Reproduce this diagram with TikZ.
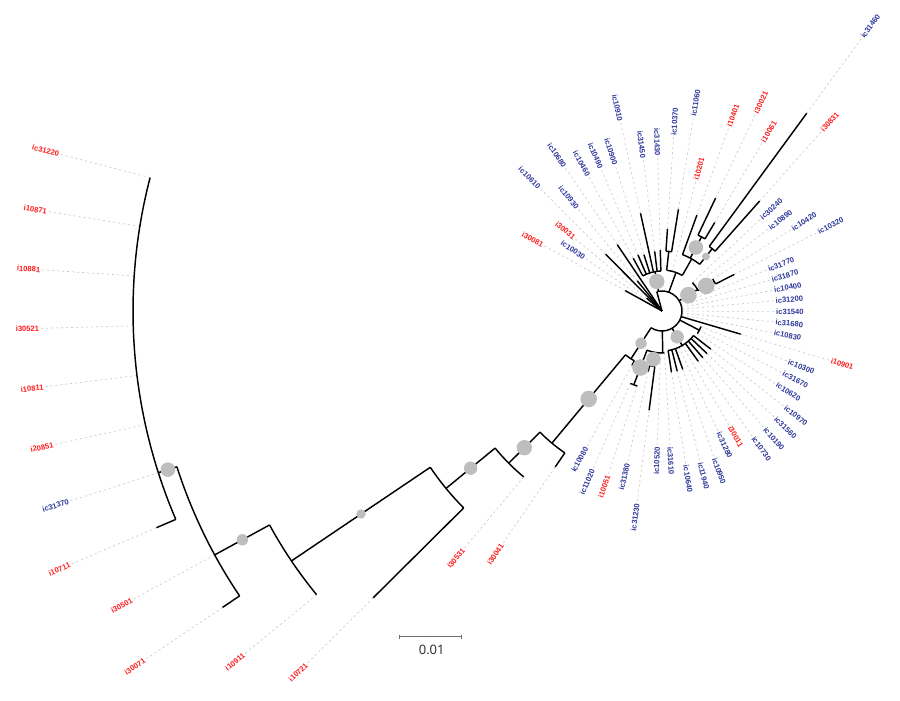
\documentclass[tikz,border=0pt]{standalone}
\usepackage{fontspec}
\newfontfamily\tipfont{Liberation Sans}
\newfontfamily\barfont{Open Sans}
\usetikzlibrary{calc}

\definecolor{tipred}{RGB}{255,28,28}
\definecolor{tipblue}{RGB}{46,56,155}
\definecolor{bootgray}{RGB}{190,190,190}
\definecolor{leadgray}{RGB}{205,205,205}
\definecolor{bargray}{RGB}{110,110,110}

\tikzset{
  branch/.style={line width=1.45pt},
  lead/.style={draw=leadgray, line width=0.7pt, dash pattern=on 2.2pt off 2.8pt},
  tiplbl/.style={font=\tipfont\bfseries\fontsize{7.6}{8}\selectfont, inner sep=0pt},
  supp/.style={fill=bootgray},
  scalebar/.style={draw=bargray, line width=0.9pt}
}

% leaf: name (= label), angle, tip radius, colour
\newcommand{\leaf}[4]{%
  \coordinate (#1) at (#2:#3);
  \pgfmathsetmacro{\lblr}{#3+94}%
  \pgfmathtruncatemacro{\rside}{cos(#2)>0}%
  \ifnum\rside=1
    \node[tiplbl, text=#4, rotate=#2, anchor=west] (#1-l) at (#2:\lblr) {#1};
  \else
    \pgfmathsetmacro{\lblrot}{#2-180}%
    \node[tiplbl, text=#4, rotate=\lblrot, anchor=east] (#1-l) at (#2:\lblr) {#1};
  \fi
  \draw[lead] (#1) -- (#1-l);
}
% stem: child name, angle, radius of parent
\newcommand{\stem}[3]{%
  \coordinate (#1-b) at (#2:#3);
  \draw[branch] (#1-b) -- (#1);
}
% clade arc: radius, from, to
\newcommand{\clade}[3]{%
  \draw[branch] (#2:#1) arc[start angle=#2, end angle=#3, radius=#1 pt];
}
% support dot: angle, radius, size
\newcommand{\bootdot}[3]{\fill[supp] (#1:#2) circle[radius=#3 pt];}

\begin{document}
\begin{tikzpicture}[x=1pt,y=1pt]
	\useasboundingbox (-662,-390) rectangle (238,311);

	%leaves
	\leaf{ic31220}{165.4}{529}{tipred}
	\leaf{i10871}{170.8}{529}{tipred}
	\leaf{i10881}{176.2}{529}{tipred}
	\leaf{i30521}{181.6}{529}{tipred}
	\leaf{i10811}{187.0}{529}{tipred}
	\leaf{i20851}{192.4}{529}{tipred}
	\leaf{ic31370}{197.8}{529}{tipblue}
	\leaf{i10711}{203.2}{550}{tipred}
	\leaf{i30501}{208.6}{509.5}{tipred}
	\leaf{i30071}{214.0}{530}{tipred}
	\leaf{i10911}{219.4}{447}{tipred}
	\leaf{i10721}{224.8}{407}{tipred}
	\leaf{i30531}{230.2}{216}{tipred}
	\leaf{i30041}{235.6}{189}{tipred}
	\leaf{ic10080}{241.0}{62}{tipblue}
	\leaf{ic11020}{246.4}{79}{tipblue}
	\leaf{i10051}{251.8}{79}{tipred}
	\leaf{ic31380}{257.2}{62}{tipblue}
	\leaf{ic31230}{262.6}{100}{tipblue}
	\leaf{ic10520}{268.0}{42}{tipblue}
	\leaf{ic31610}{273.4}{42}{tipblue}
	\leaf{ic10640}{278.8}{62}{tipblue}
	\leaf{ic11940}{284.2}{62}{tipblue}
	\leaf{ic10950}{289.6}{62}{tipblue}
	\leaf{ic31280}{295.0}{40}{tipblue}
	\leaf{i30011}{300.4}{40}{tipred}
	\leaf{ic10730}{305.8}{62}{tipblue}
	\leaf{ic10190}{311.2}{62}{tipblue}
	\leaf{ic31560}{316.6}{62}{tipblue}
	\leaf{ic10970}{322.0}{62}{tipblue}
	\leaf{ic10620}{327.4}{42}{tipblue}
	\leaf{ic31670}{332.8}{42}{tipblue}
	\leaf{ic10300}{338.2}{42}{tipblue}
	\leaf{i10901}{343.6}{82}{tipred}
	\leaf{ic10830}{349.0}{20}{tipblue}
	\leaf{ic31680}{354.4}{20}{tipblue}
	\leaf{ic31540}{359.8}{20}{tipblue}
	\leaf{ic31200}{5.2}{20}{tipblue}
	\leaf{ic10400}{10.6}{20}{tipblue}
	\leaf{ic31870}{16.0}{20}{tipblue}
	\leaf{ic31770}{21.4}{20}{tipblue}
	\leaf{ic10320}{26.8}{81}{tipblue}
	\leaf{ic10420}{32.2}{60}{tipblue}
	\leaf{ic10890}{37.6}{41.6}{tipblue}
	\leaf{ic30240}{43.0}{41.6}{tipblue}
	\leaf{i30831}{48.4}{147}{tipred}
	\leaf{ic31460}{53.8}{245}{tipblue}
	\leaf{i10061}{59.2}{103}{tipred}
	\leaf{i30021}{64.6}{125}{tipred}
	\leaf{i10401}{70.0}{102}{tipred}
	\leaf{i10201}{75.4}{41}{tipred}
	\leaf{ic11060}{80.8}{103}{tipblue}
	\leaf{ic10370}{86.2}{82}{tipblue}
	\leaf{ic31430}{91.6}{61}{tipblue}
	\leaf{ic31450}{97.0}{60}{tipblue}
	\leaf{ic10910}{102.4}{100}{tipblue}
	\leaf{ic10900}{107.8}{59}{tipblue}
	\leaf{ic10490}{113.2}{61}{tipblue}
	\leaf{ic10460}{118.6}{60}{tipblue}
	\leaf{ic10680}{124.0}{80}{tipblue}
	\leaf{ic10930}{129.4}{39}{tipblue}
	\leaf{ic10610}{134.8}{80}{tipblue}
	\leaf{i30031}{140.2}{20}{tipred}
	\leaf{ic10030}{145.6}{0}{tipblue}
	\leaf{i30081}{151.0}{42}{tipred}

	%inner nodes
	\coordinate (R) at (0,0);
	\coordinate (S) at (105:20);
	\coordinate (U) at (100:40);
	\coordinate (Y) at (70:41);
	\coordinate (X) at (83.5:60);
	\coordinate (L) at (60.3:60);
	\coordinate (M) at (61.9:84);
	\coordinate (Z) at (51.1:80);
	\coordinate (G1) at (31:41.6);
	\coordinate (G2) at (29.5:60);
	\coordinate (T2) at (332.8:42);
	\coordinate (H) at (300.4:40);
	\coordinate (V) at (271:42);
	\coordinate (V2) at (259.9:56);
	\coordinate (T1) at (249.1:79);
	\coordinate (Q) at (237:57);
	\coordinate (N1) at (230.2:172);
	\coordinate (N2) at (224.8:216);
	\coordinate (N3) at (219.4:279.5);
	\coordinate (N4) at (214:447);
	\coordinate (N5) at (208.6:509.5);
	\coordinate (N6) at (197.8:529);

	%root
	\draw[branch] (R) -- (S);
	\stem{ic10680}{124}{0}
	\stem{ic10930}{129.4}{0}
	\stem{ic10610}{134.8}{0}
	\stem{i30031}{140.2}{0}
	\stem{i30081}{151}{0}
	\clade{20}{237}{465}

	%upper clades
	\stem{U}{100}{20}
	\clade{40}{91.6}{118.6}
	\stem{ic31430}{91.6}{40}
	\stem{ic31450}{97}{40}
	\stem{ic10910}{102.4}{40}
	\stem{ic10900}{107.8}{40}
	\stem{ic10490}{113.2}{40}
	\stem{ic10460}{118.6}{40}
	\stem{Y}{70}{20}
	\clade{41}{60.3}{83.5}
	\stem{X}{83.5}{41}
	\clade{60}{80.8}{86.2}
	\stem{ic11060}{80.8}{60}
	\stem{ic10370}{86.2}{60}
	\stem{L}{60.3}{41}
	\clade{60}{51.1}{70}
	\stem{i10401}{70}{60}
	\stem{M}{61.9}{60}
	\clade{84}{59.2}{64.6}
	\stem{i10061}{59.2}{84}
	\stem{i30021}{64.6}{84}
	\stem{Z}{51.1}{60}
	\clade{80}{48.4}{53.8}
	\stem{i30831}{48.4}{80}
	\stem{ic31460}{53.8}{80}
	\stem{G1}{31}{20}
	\clade{41.6}{29.5}{43}
	\stem{G2}{29.5}{41.6}
	\clade{60}{26.8}{32.2}
	\stem{ic10320}{26.8}{60}

	%lower clades
	\stem{i10901}{343.6}{20}
	\stem{T2}{332.8}{20}
	\clade{42}{327.4}{338.2}
	\stem{H}{300.4}{20}
	\clade{40}{278.8}{322}
	\stem{ic10640}{278.8}{40}
	\stem{ic11940}{284.2}{40}
	\stem{ic10950}{289.6}{40}
	\stem{ic10730}{305.8}{40}
	\stem{ic10190}{311.2}{40}
	\stem{ic31560}{316.6}{40}
	\stem{ic10970}{322}{40}
	\stem{V}{271}{20}
	\clade{42}{249.1}{273.4}
	\stem{V2}{259.9}{42}
	\clade{56}{257.2}{262.6}
	\stem{ic31380}{257.2}{56}
	\stem{ic31230}{262.6}{56}
	\stem{T1}{249.1}{42}
	\clade{79}{246.4}{251.8}
	\stem{Q}{237}{20}
	\clade{57}{230.2}{241}
	\stem{ic10080}{241}{57}

	%outgroup backbone
	\stem{N1}{230.2}{57}
	\clade{172}{224.8}{235.6}
	\stem{i30041}{235.6}{172}
	\stem{N2}{224.8}{172}
	\clade{216}{219.4}{230.2}
	\stem{N3}{219.4}{216}
	\clade{279.5}{214}{224.8}
	\stem{i10721}{224.8}{279.5}
	\stem{N4}{214}{279.5}
	\clade{447}{208.6}{219.4}
	\stem{N5}{208.6}{447}
	\clade{509.5}{197.8}{214}
	\stem{i30071}{214}{509.5}
	\stem{N6}{197.8}{509.5}
	\clade{529}{165.4}{203.2}
	\stem{i10711}{203.2}{529}

	%support circles
	\bootdot{100}{30}{7.7}
	\bootdot{61.9}{72}{7.3}
	\bootdot{51.1}{70}{4}
	\bootdot{31}{30.8}{8.3}
	\bootdot{29.5}{50.8}{8.3}
	\bootdot{300.4}{30}{6.7}
	\bootdot{259.9}{49}{7.3}
	\bootdot{249.1}{60.5}{8.3}
	\bootdot{237}{38.5}{5.7}
	\bootdot{230.2}{114.5}{8.3}
	\bootdot{224.8}{194}{7.7}
	\bootdot{219.4}{247.7}{6.7}
	\bootdot{214}{363}{4.7}
	\bootdot{208.6}{478}{5.7}
	\bootdot{197.8}{519}{7.3}

	%scale bar
	\coordinate (sb-l) at (-263,-325.7);
	\coordinate (sb-r) at (-200.3,-325.7);
	\coordinate (sb-m) at (-231.6,-325.7);
	\draw[scalebar] (sb-l) -- (sb-r);
	\draw[scalebar] ([yshift=2.2pt]sb-l) -- ([yshift=-2.2pt]sb-l);
	\draw[scalebar] ([yshift=2.2pt]sb-r) -- ([yshift=-2.2pt]sb-r);
	\draw[scalebar] ([yshift=1.2pt]sb-m) -- (sb-m);
	\node[font=\barfont\fontsize{13}{15}\selectfont, text=black!85] (sb-t) at (-230.3,-338.5) {0.01};
\end{tikzpicture}
\end{document}
